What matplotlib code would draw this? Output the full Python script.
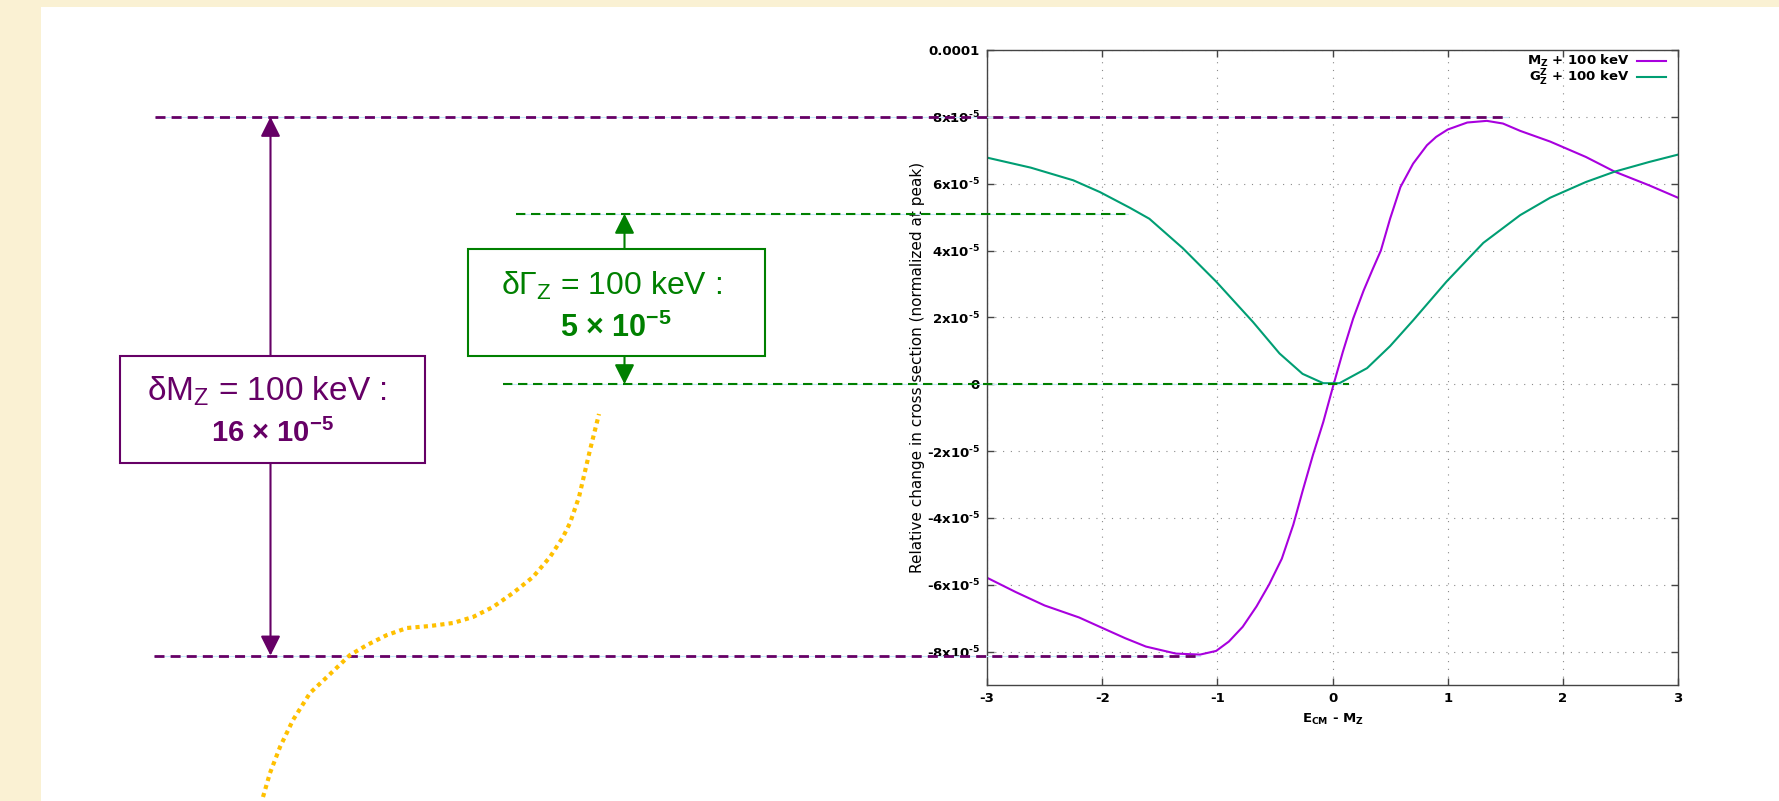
'''
Slide figure: Z lineshape sensitivity to M_Z and Gamma_Z shifts of 100 keV
'''

import numpy as np
import matplotlib.pyplot as plt
from matplotlib.patches import Rectangle
from matplotlib.ticker import FuncFormatter, FixedLocator
from matplotlib.transforms import blended_transform_factory

# relative change in cross section, units of 1e-5
x_mass = [-3.0, -2.75, -2.5, -2.2, -2.02, -1.8, -1.62, -1.36, -1.15, -1.01,
          -0.9, -0.78, -0.66, -0.55, -0.44, -0.34, -0.26, -0.17, -0.08, 0.01,
          0.09, 0.18, 0.27, 0.35, 0.42, 0.5, 0.59, 0.7, 0.82, 0.9, 1.0, 1.17,
          1.34, 1.48, 1.63, 1.89, 2.2, 2.45, 2.75, 3.0]
y_mass = [-5.79, -6.22, -6.62, -6.98, -7.26, -7.6, -7.85, -8.06, -8.09, -7.98,
          -7.7, -7.26, -6.65, -5.99, -5.22, -4.2, -3.2, -2.12, -1.13, 0.0,
          0.97, 1.97, 2.8, 3.45, 4.0, 4.95, 5.9, 6.6, 7.15, 7.4, 7.62, 7.83,
          7.88, 7.8, 7.58, 7.26, 6.8, 6.36, 5.95, 5.58]

x_width = [-3.0, -2.62, -2.25, -2.02, -1.76, -1.59, -1.3, -1.01, -0.69, -0.46,
           -0.26, -0.08, 0.06, 0.3, 0.5, 0.7, 0.99, 1.31, 1.63, 1.89, 2.2,
           2.45, 2.75, 3.0]
y_width = [6.78, 6.48, 6.1, 5.75, 5.28, 4.95, 4.07, 3.07, 1.86, 0.92,
           0.31, 0.03, 0.03, 0.48, 1.14, 1.91, 3.07, 4.23, 5.06, 5.58, 6.05,
           6.36, 6.65, 6.87]

legend_labels = ['M$_Z$ + 100 keV', 'G$^Z_Z$ + 100 keV']
x_ticks = [-3, -2, -1, 0, 1, 2, 3]
y_ticks = [-8e-5, -6e-5, -4e-5, -2e-5, 0, 2e-5, 4e-5, 6e-5, 8e-5, 1e-4]

# levels marked on the slide (relative change)
mass_peak = 8.0e-5
mass_trough = -8.12e-5
width_top = 5.1e-5
width_min = 0.0

PURPLE = '#660066'
GREEN = '#008000'
GOLD = '#ffc000'

# slide layout, in pixels of the 1779x801 image
W, H = 1779, 801
curve_px = [(263, 797), (270, 773), (280, 747), (293, 720), (310, 693),
            (327, 677), (350, 655), (367, 645), (387, 635), (407, 628),
            (430, 626), (453, 623), (473, 617), (493, 607), (513, 593),
            (533, 577), (550, 557), (563, 537), (570, 523), (579, 497),
            (590, 450), (599, 414)]


def ytick_label(v, pos):
    if abs(v) < 1e-12:
        return '0'
    if abs(v - 1e-4) < 1e-12:
        return '0.0001'
    return '%dx10$^{\u20105}$' % round(v * 1e5)


def main():
    plt.rcParams['mathtext.default'] = 'regular'
    plt.rcParams['axes.unicode_minus'] = False
    plt.rcParams['font.family'] = 'DejaVu Sans'

    fig = plt.figure(figsize=(W / 100, H / 100), dpi=100)
    fig.patch.set_facecolor('#faf1d3')
    fig.add_artist(Rectangle((41 / W, 0), 1 - 41 / W, 1 - 7 / H,
                             transform=fig.transFigure, facecolor='white',
                             edgecolor='none', zorder=0))

    # gnuplot panel
    ax = fig.add_axes([987 / W, 1 - 685 / H, (1678 - 987) / W, (685 - 50) / H])
    ax.patch.set_alpha(0)
    ax.plot(x_mass, np.array(y_mass) * 1e-5, color='#a800de', lw=1.5,
            label=legend_labels[0])
    ax.plot(x_width, np.array(y_width) * 1e-5, color='#009e73', lw=1.5,
            label=legend_labels[1])
    ax.set_xlim(-3, 3)
    ax.set_ylim(-9e-5, 1e-4)
    ax.xaxis.set_major_locator(FixedLocator(x_ticks))
    ax.yaxis.set_major_locator(FixedLocator(y_ticks))
    ax.yaxis.set_major_formatter(FuncFormatter(ytick_label))
    ax.grid(True, color='#8a8a8a', lw=0.8, ls=(0, (1, 6)))
    ax.tick_params(direction='in', length=5, width=1, top=True, right=True,
                   color='#444444', pad=5)
    for lbl in ax.get_xticklabels() + ax.get_yticklabels():
        lbl.set_fontsize(9.5)
        lbl.set_fontweight('bold')
    for sp in ax.spines.values():
        sp.set_color('#444444')
        sp.set_linewidth(1)
    ax.set_ylabel('Relative change in cross section (normalized at peak)',
                  fontsize=11)
    ax.yaxis.set_label_coords(-0.09, 0.5)
    ax.set_xlabel('E$_{CM}$ - M$_Z$', fontsize=9.5, fontweight='bold',
                  labelpad=5)
    ax.legend(loc='upper right', bbox_to_anchor=(1 - 9 / 691, 1.0),
              frameon=False, markerfirst=False,
              prop={'size': 9.5, 'weight': 'bold'}, labelspacing=-0.1,
              handlelength=2.2, handletextpad=0.5, borderaxespad=0.0,
              borderpad=0.25)

    # overlay in slide pixels for the annotations
    ov = fig.add_axes([0, 0, 1, 1])
    ov.set_xlim(0, W)
    ov.set_ylim(H, 0)
    ov.axis('off')
    ov.set_zorder(5)
    blend = blended_transform_factory(ov.transData, ax.transData)

    def guide(x0, x1, level, color, lw, dashes):
        ov.plot([x0, x1], [level, level], transform=blend, color='#c4e8fb',
                lw=0.8, clip_on=False)
        ov.plot([x0, x1], [level, level], transform=blend, color=color,
                lw=lw, ls=(0, dashes), clip_on=False)

    guide(155, 1508, mass_peak, PURPLE, 2.0, (3.6, 2.2))
    guide(154, 1200, mass_trough, PURPLE, 2.0, (3.6, 2.2))
    guide(516, 1128, width_top, GREEN, 1.5, (4.5, 2.7))
    guide(503, 1349, width_min, GREEN, 1.5, (4.5, 2.7))

    def arrow(x, y_box, level, color):
        ov.annotate('', xy=(x, level), xycoords=blend,
                    xytext=(x, y_box), textcoords='data',
                    arrowprops=dict(arrowstyle='-|>,head_length=0.6,head_width=0.3',
                                    color=color, lw=1.5, shrinkA=0, shrinkB=0,
                                    mutation_scale=20))

    # delta M_Z box
    arrow(270.5, 356, mass_peak, PURPLE)
    arrow(270.5, 463, mass_trough, PURPLE)
    ov.add_patch(Rectangle((120, 356), 305, 107, facecolor='white',
                           edgecolor=PURPLE, lw=1.5, zorder=3))
    ov.text(267, 401, 'δM$_Z$ = 100 keV :', ha='center', va='baseline',
            fontsize=24, family='Liberation Sans', color=PURPLE, zorder=4)
    ov.text(272, 442, '16 × 10$^{-5}$', ha='center', va='baseline',
            fontsize=21, family='Liberation Sans', fontweight='bold',
            color=PURPLE, zorder=4)

    # delta Gamma_Z box
    arrow(624.5, 249, width_top, GREEN)
    arrow(624.5, 356, width_min, GREEN)
    ov.add_patch(Rectangle((468, 249), 297, 107, facecolor='white',
                           edgecolor=GREEN, lw=1.5, zorder=3))
    ov.text(611, 295, 'δΓ$_Z$ = 100 keV :', ha='center', va='baseline',
            fontsize=23, family='Liberation Sans', color=GREEN, zorder=4)
    ov.text(616, 337, '5 × 10$^{-5}$', ha='center', va='baseline',
            fontsize=22, family='Liberation Sans', fontweight='bold',
            color=GREEN, zorder=4)

    # decorative dotted connector
    cx, cy = zip(*curve_px)
    ov.plot(cx, cy, color=GOLD, lw=3, ls=(0, (1, 1)), zorder=6)

    fig.savefig('out.png', dpi=100, facecolor=fig.get_facecolor())


if __name__ == "__main__":
    main()
